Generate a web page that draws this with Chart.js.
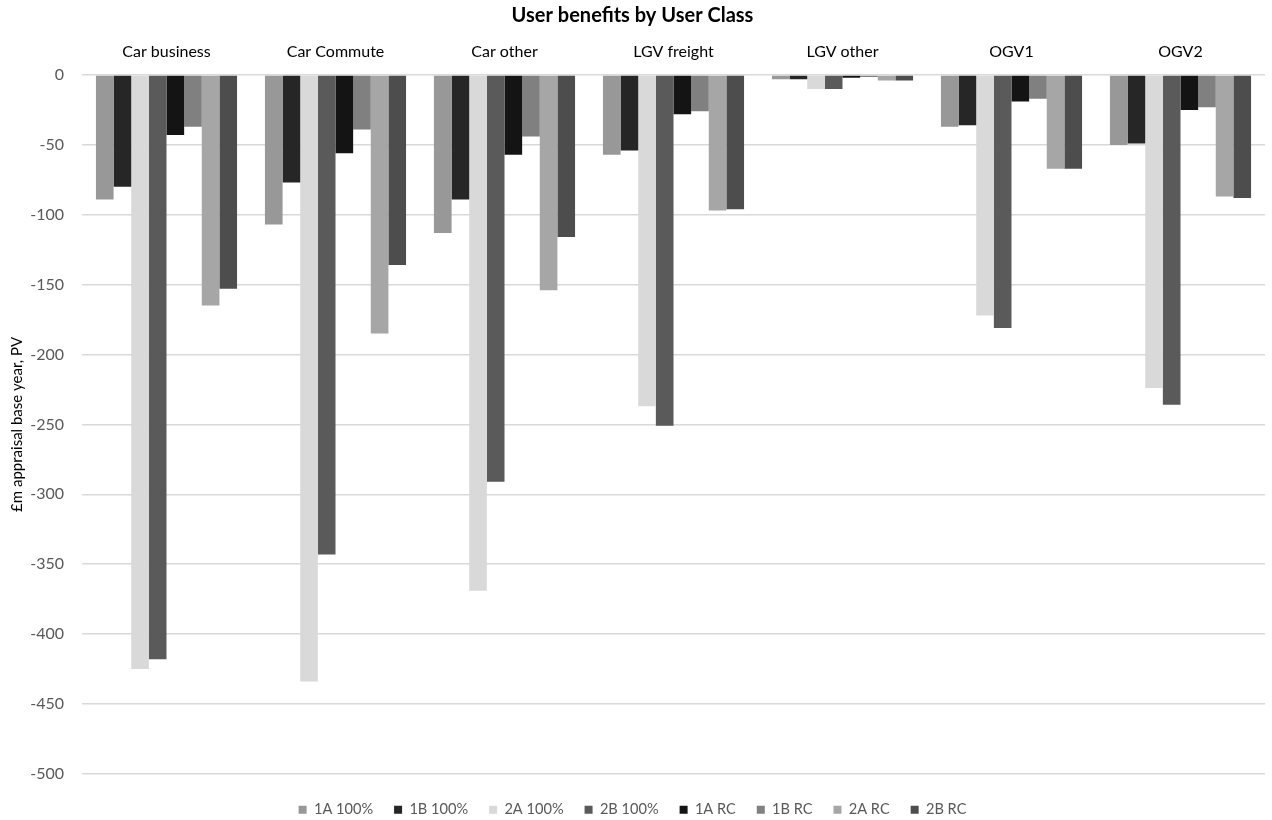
<!DOCTYPE html>
<html>
<head>
<meta charset="utf-8">
<script src="https://cdn.jsdelivr.net/npm/chart.js@4.4.1/dist/chart.umd.min.js"></script>
<style>
  body { margin: 0; background: #fff; }
  #wrap { width: 1272px; height: 820px; }
</style>
</head>
<body>
<div id="wrap"><canvas id="chart"></canvas></div>
<script>
// user classes along the top axis
const userClasses = ['Car business', 'Car Commute', 'Car other', 'LGV freight', 'LGV other', 'OGV1', 'OGV2'];

// £m appraisal base year, PV for each scenario
const benefits1A100 = [-89, -107, -113, -57, -3, -37, -50];
const benefits1B100 = [-80, -77, -89, -54, -3, -36, -49];
const benefits2A100 = [-425, -434, -369, -237, -10, -172, -224];
const benefits2B100 = [-418, -343, -291, -251, -10, -181, -236];
const benefits1ARC = [-43, -56, -57, -28, -2, -19, -25];
const benefits1BRC = [-37, -39, -44, -26, -1.5, -17, -23];
const benefits2ARC = [-165, -185, -154, -97, -4, -67, -87];
const benefits2BRC = [-153, -136, -116, -96, -4, -67, -88];

const scenarioLabels = ['1A 100%', '1B 100%', '2A 100%', '2B 100%', '1A RC', '1B RC', '2A RC', '2B RC'];
const scenarioValues = [benefits1A100, benefits1B100, benefits2A100, benefits2B100,
    benefits1ARC, benefits1BRC, benefits2ARC, benefits2BRC];
const scenarioColors = ['#989898', '#262626', '#d9d9d9', '#5a5a5a', '#141414', '#808080', '#a6a6a6', '#4d4d4d'];

const yTickMin = -500;
const yTickMax = 0;
const yTickStep = 50;

Chart.defaults.font.family = 'Lato, "Open Sans", sans-serif';

const datasets = scenarioLabels.map((label, i) => ({
    label: label,
    data: scenarioValues[i],
    backgroundColor: scenarioColors[i],
    borderWidth: 0,
    barPercentage: 1,
    categoryPercentage: 0.835,
}));

const chart = new Chart(document.getElementById('chart'), {
    type: 'bar',
    data: { labels: userClasses, datasets: datasets },
    options: {
        responsive: true,
        maintainAspectRatio: false,
        animation: false,
        layout: { padding: { left: 0, right: 7, top: 0, bottom: -7 } },
        plugins: {
            title: {
                display: true,
                text: 'User benefits by User Class',
                color: '#000',
                font: { size: 20, weight: 'bold' },
                padding: { top: 4, bottom: 8.4 },
            },
            legend: {
                position: 'bottom',
                // blank title only pushes the legend row down a little
                title: { display: true, text: ' ', font: { size: 1 }, padding: 3.2 },
                labels: {
                    boxWidth: 8,
                    boxHeight: 8,
                    padding: 21,
                    color: '#595959',
                    font: { size: 14.6 },
                },
            },
            tooltip: { enabled: false },
        },
        scales: {
            x: {
                position: 'top',
                grid: { display: false, drawTicks: false },
                border: { display: false },
                ticks: { color: '#000', font: { size: 16 }, padding: 14 },
                afterFit: (scale) => { scale.height = 38.6; },
            },
            y: {
                min: yTickMin,
                max: yTickMax,
                grid: { color: '#d9d9d9', lineWidth: 1.5, drawTicks: false },
                border: { display: false },
                ticks: { stepSize: yTickStep, color: '#595959', font: { size: 16 }, padding: 18 },
                title: {
                    display: true,
                    text: '£m appraisal base year, PV',
                    color: '#000',
                    font: { size: 15 },
                    padding: { top: 8, bottom: 0 },
                },
                afterFit: (scale) => { scale.width = 82; },
            },
        },
    },
});
</script>
</body>
</html>
